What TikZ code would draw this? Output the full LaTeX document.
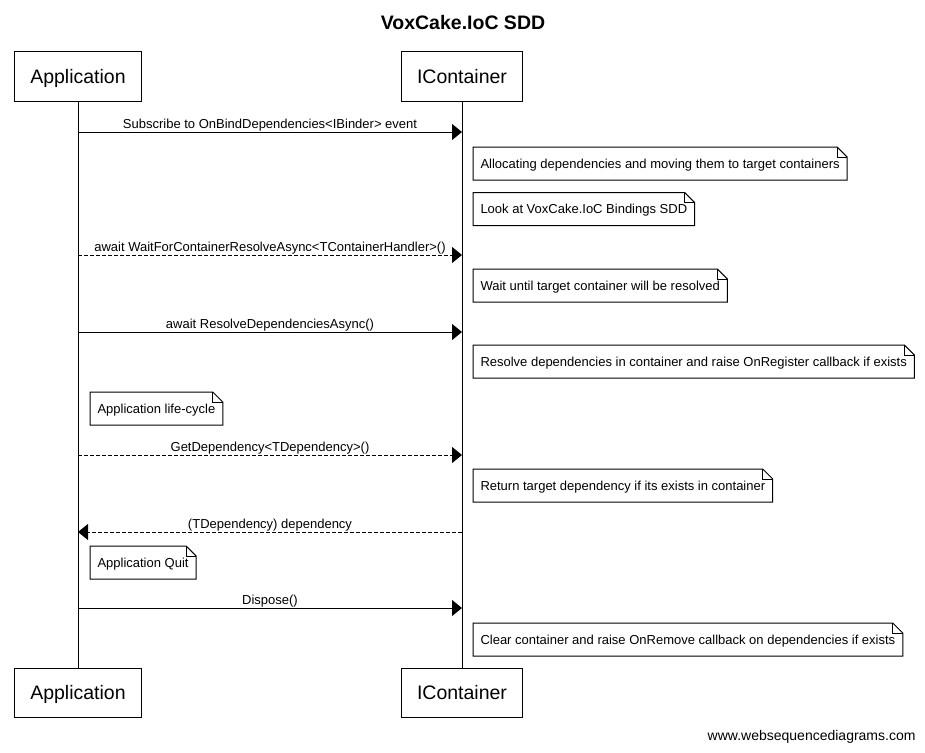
\documentclass[tikz,border=0pt]{standalone}
\usepackage{fontspec}
\setmainfont{Liberation Sans}
\usetikzlibrary{arrows.meta}

\begin{document}
\begin{tikzpicture}[x=1pt,y=-1pt,line width=1pt,
    actor/.style={draw,fill=white,minimum height=49pt,inner xsep=15.5pt,text height=14pt,text depth=0pt,
        font=\fontsize{19.5}{22}\selectfont},
    notetext/.style={anchor=north west,minimum height=32pt,inner xsep=7pt,text height=9.3pt,text depth=0pt,
        font=\fontsize{13}{15}\selectfont},
    msg/.style={midway,above=0pt,inner sep=0.5pt,font=\fontsize{13}{15}\selectfont},
    call/.style={-{Triangle[length=10pt,width=16pt]}},
    async/.style={call,dash pattern=on 4pt off 2pt}]
    \useasboundingbox (0,0) rectangle (925,752);

    \node[font=\bfseries\fontsize{19.5}{22}\selectfont] (title) at (463,22.5) {VoxCake.IoC SDD};

    \node[actor] (appTop) at (78,76.5) {Application};
    \node[actor] (iocTop) at (462,76.5) {IContainer};
    \node[actor] (appBot) at (78,692.5) {Application};
    \node[actor] (iocBot) at (462,692.5) {IContainer};
    \draw (appTop) -- (appBot);
    \draw (iocTop) -- (iocBot);

    % message rows
    \foreach \y [count=\i] in {132,255,332,455,532,608} {
        \coordinate (a\i) at (78,\y);
        \coordinate (c\i) at (462,\y);
    }

    \draw[call] (a1) -- (c1) node[msg]{Subscribe to OnBindDependencies<IBinder> event};
    \draw[async] (a2) -- (c2) node[msg]{await WaitForContainerResolveAsync<TContainerHandler>()};
    \draw[call] (a3) -- (c3) node[msg]{await ResolveDependenciesAsync()};
    \draw[async] (a4) -- (c4) node[msg]{GetDependency<TDependency>()};
    \draw[async] (c5) -- (a5) node[msg]{(TDependency) dependency};
    \draw[call] (a6) -- (c6) node[msg]{Dispose()};

    % notes
    \node[notetext] (n1) at (473,147) {Allocating dependencies and moving them to target containers};
    \node[notetext] (n2) at (473,192.5) {Look at VoxCake.IoC Bindings SDD};
    \node[notetext] (n3) at (473,269) {Wait until target container will be resolved};
    \node[notetext] (n4) at (473,345) {Resolve dependencies in container and raise OnRegister callback if exists};
    \node[notetext] (n5) at (90,392) {Application life-cycle};
    \node[notetext] (n6) at (473,469) {Return target dependency if its exists in container};
    \node[notetext] (n7) at (90,546) {Application Quit};
    \node[notetext] (n8) at (473,623) {Clear container and raise OnRemove callback on dependencies if exists};
    \foreach \n in {n1,n2,n3,n4,n5,n6,n7,n8} {
        \draw (\n.north west) -- ([xshift=-10pt]\n.north east) -- ([yshift=-10pt]\n.north east)
            -- (\n.south east) -- (\n.south west) -- cycle;
        \draw[line width=0.6pt] ([xshift=-10pt]\n.north east) -- ([xshift=-10pt,yshift=-10pt]\n.north east)
            -- ([yshift=-10pt]\n.north east);
    }

    \node[anchor=east,inner sep=0pt,font=\fontsize{14}{16}\selectfont] (credit) at (916,737) {www.websequencediagrams.com};
\end{tikzpicture}
\end{document}
